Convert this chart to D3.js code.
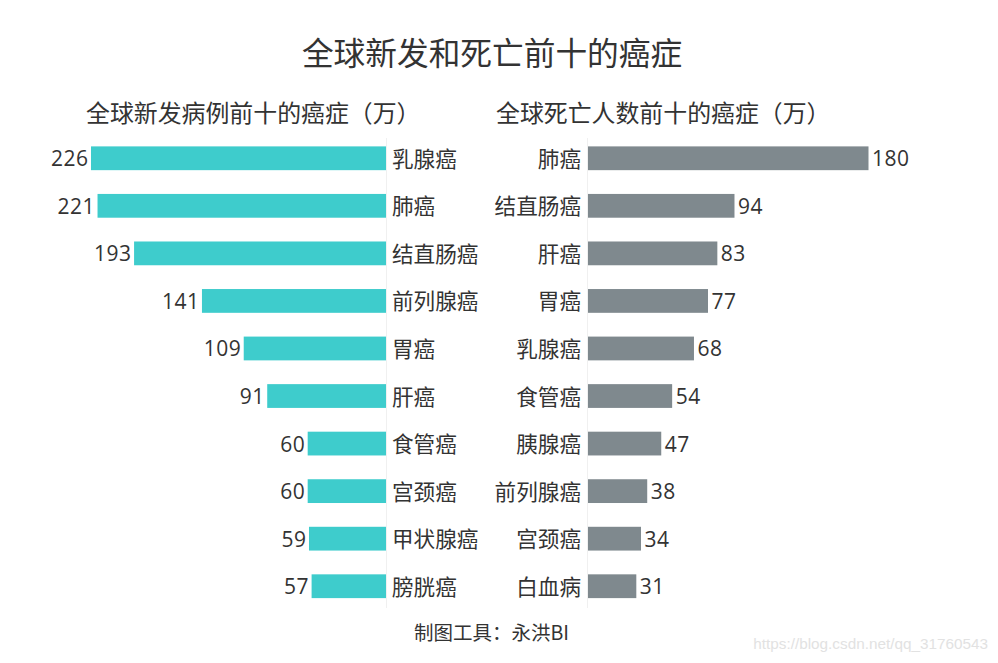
<!DOCTYPE html>
<html><head><meta charset="utf-8">
<script src="https://cdn.jsdelivr.net/npm/d3@7"></script>
<style>body{margin:0;background:#fff}svg{display:block}text{font-family:"Noto Sans CJK SC","Noto Sans",sans-serif}</style>
</head><body>
<svg id="c" width="998" height="663"></svg>
<script>
const newCats = ["乳腺癌","肺癌","结直肠癌","前列腺癌","胃癌","肝癌","食管癌","宫颈癌","甲状腺癌","膀胱癌"];
const newVals = [226,221,193,141,109,91,60,60,59,57];
const deathCats = ["肺癌","结直肠癌","肝癌","胃癌","乳腺癌","食管癌","胰腺癌","前列腺癌","宫颈癌","白血病"];
const deathVals = [180,94,83,77,68,54,47,38,34,31];
const title = "全球新发和死亡前十的癌症";
const subLeft = "全球新发病例前十的癌症（万）";
const subRight = "全球死亡人数前十的癌症（万）";
const footer = "制图工具：永洪BI";
const watermark = "https://blog.csdn.net/qq_31760543";

const svg = d3.select("#c");
const txt = "#333";
const numFont = "'Open Sans','Noto Sans',sans-serif";

svg.append("text").attr("x",492).attr("y",50.5).attr("text-anchor","middle").attr("dominant-baseline","central")
  .attr("font-size",31.7).attr("fill",txt).text(title);
svg.append("text").attr("x",86).attr("y",111.5).attr("dominant-baseline","central")
  .attr("font-size",23.9).attr("fill",txt).text(subLeft);
svg.append("text").attr("x",496).attr("y",111.5).attr("dominant-baseline","central")
  .attr("font-size",23.9).attr("fill",txt).text(subRight);

const yL = d3.scaleBand().domain(newCats).range([134.5,610]).paddingInner(0.5).paddingOuter(0.25);
const yR = d3.scaleBand().domain(deathCats).range([134.5,610]).paddingInner(0.5).paddingOuter(0.25);
const xL = d3.scaleLinear().domain([0,226]).range([386,91]);
const xR = d3.scaleLinear().domain([0,180]).range([588,868.5]);

// faint axis lines
svg.append("line").attr("x1",386.5).attr("x2",386.5).attr("y1",138).attr("y2",608).attr("stroke","#f0f0f0");
svg.append("line").attr("x1",587.5).attr("x2",587.5).attr("y1",138).attr("y2",608).attr("stroke","#f0f0f0");

const gl = svg.append("g");
newCats.forEach((c,i)=>{
  const y = yL(c), h = yL.bandwidth();
  gl.append("rect").attr("x",xL(newVals[i])).attr("y",y).attr("width",xL(0)-xL(newVals[i])).attr("height",h).attr("fill","#3ecccc");
  gl.append("text").attr("x",xL(newVals[i])-2.5).attr("y",y+h/2).attr("text-anchor","end").attr("dominant-baseline","central")
    .attr("font-size",21).attr("letter-spacing",0.5).style("font-family",numFont).attr("fill",txt).text(newVals[i]);
  gl.append("text").attr("x",392).attr("y",y+h/2-1).attr("dominant-baseline","central")
    .attr("font-size",21.6).attr("fill",txt).text(c);
});
const gr = svg.append("g");
deathCats.forEach((c,i)=>{
  const y = yR(c), h = yR.bandwidth();
  gr.append("rect").attr("x",xR(0)).attr("y",y).attr("width",xR(deathVals[i])-xR(0)).attr("height",h).attr("fill","#7f898e");
  gr.append("text").attr("x",xR(deathVals[i])+3.5).attr("y",y+h/2).attr("dominant-baseline","central")
    .attr("font-size",21).attr("letter-spacing",0.5).style("font-family",numFont).attr("fill",txt).text(deathVals[i]);
  gr.append("text").attr("x",581).attr("y",y+h/2-1).attr("text-anchor","end").attr("dominant-baseline","central")
    .attr("font-size",21.6).attr("fill",txt).text(c);
});

svg.append("text").attr("x",491.5).attr("y",631).attr("text-anchor","middle").attr("dominant-baseline","central")
  .attr("font-size",19.5).attr("fill",txt).text(footer);
svg.append("text").attr("x",988).attr("y",643).attr("text-anchor","end").attr("dominant-baseline","central")
  .attr("font-size",15.3).attr("fill","#e2e2e2").style("font-family","'Liberation Sans',Arial,sans-serif").text(watermark);
</script>
</body></html>
